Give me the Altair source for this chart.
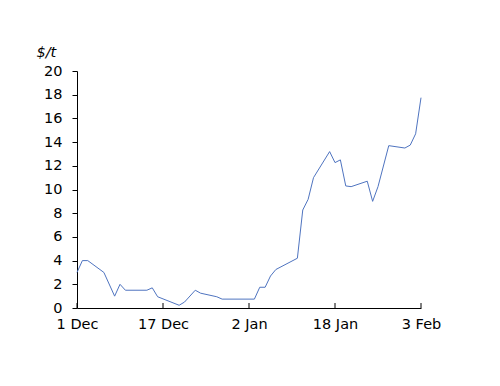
import altair as alt
import pandas as pd

dates = ["2008-12-01", "2008-12-02", "2008-12-03", "2008-12-06", "2008-12-08", "2008-12-09",
         "2008-12-10", "2008-12-14", "2008-12-15", "2008-12-16", "2008-12-20", "2008-12-21",
         "2008-12-23", "2008-12-24", "2008-12-27", "2008-12-28", "2009-01-03", "2009-01-04",
         "2009-01-05", "2009-01-06", "2009-01-07", "2009-01-11", "2009-01-12", "2009-01-13",
         "2009-01-14", "2009-01-17", "2009-01-18", "2009-01-19", "2009-01-20", "2009-01-21",
         "2009-01-24", "2009-01-25", "2009-01-26", "2009-01-28", "2009-01-31", "2009-02-01",
         "2009-02-02", "2009-02-03"]
values = [3.0, 4.0, 4.0, 3.0, 1.0, 2.0,
          1.5, 1.5, 1.7, 0.95, 0.23, 0.5,
          1.5, 1.25, 0.95, 0.75, 0.75, 1.75,
          1.75, 2.7, 3.25, 4.2, 8.27, 9.17,
          11.0, 13.2, 12.27, 12.5, 10.3, 10.24,
          10.7, 9.0, 10.24, 13.7, 13.5, 13.75,
          14.7, 17.75]
tick_dates = ["2008-12-01", "2008-12-17", "2009-01-02", "2009-01-18", "2009-02-03"]

df = pd.DataFrame({"date": dates, "value": values})
ticks_df = pd.DataFrame({"date": tick_dates})

FONT = "DejaVu Sans"
FS = 14.5

xscale = alt.Scale(type="utc", domain=[alt.DateTime(year=2008, month=12, date=1, utc=True),
                                       alt.DateTime(year=2009, month=2, date=3, utc=True)])
tick_vals = [alt.DateTime(year=int(d[:4]), month=int(d[5:7]), date=int(d[8:]), utc=True) for d in tick_dates]

xaxis = alt.Axis(values=tick_vals, labelExpr="utcFormat(datum.value, '%-d %b')",
                 title=None, grid=False, tickSize=0, labelPadding=9, labelFlush=False,
                 labelOverlap=False, domainColor="black", labelFont=FONT, labelFontSize=FS,
                 labelColor="black")

line = alt.Chart(df).mark_line(color="#4f74c0", strokeWidth=1).encode(
    x=alt.X("date:T", scale=xscale, axis=xaxis),
    y=alt.Y("value:Q", scale=alt.Scale(domain=[0, 20], nice=False),
            axis=alt.Axis(values=list(range(0, 21, 2)), title="$/t", titleAngle=0,
                          titleAlign="left", titleBaseline="alphabetic", titleX=-41, titleY=-15,
                          titleFont=FONT, titleFontSize=FS, titleFontWeight="normal",
                          titleFontStyle="italic", titleColor="black",
                          grid=False, tickSize=5, tickColor="black", labelPadding=10,
                          labelOverlap=False, domainColor="black", labelFont=FONT,
                          labelFontSize=FS, labelColor="black")),
)

xticks = alt.Chart(ticks_df).mark_rule(color="black", strokeWidth=1).encode(
    x=alt.X("date:T", scale=xscale, axis=xaxis),
    y=alt.value(237),
    y2=alt.value(232),
)

chart = alt.layer(line, xticks).properties(
    width=344, height=237,
    autosize=alt.AutoSizeParams(type="none"),
    padding={"left": 69, "top": 63, "right": 71, "bottom": 70},
).configure(background="white").configure_view(strokeWidth=0).configure_axis(grid=False)

chart.save("out.html", embed_options={"renderer": "svg", "actions": False})
